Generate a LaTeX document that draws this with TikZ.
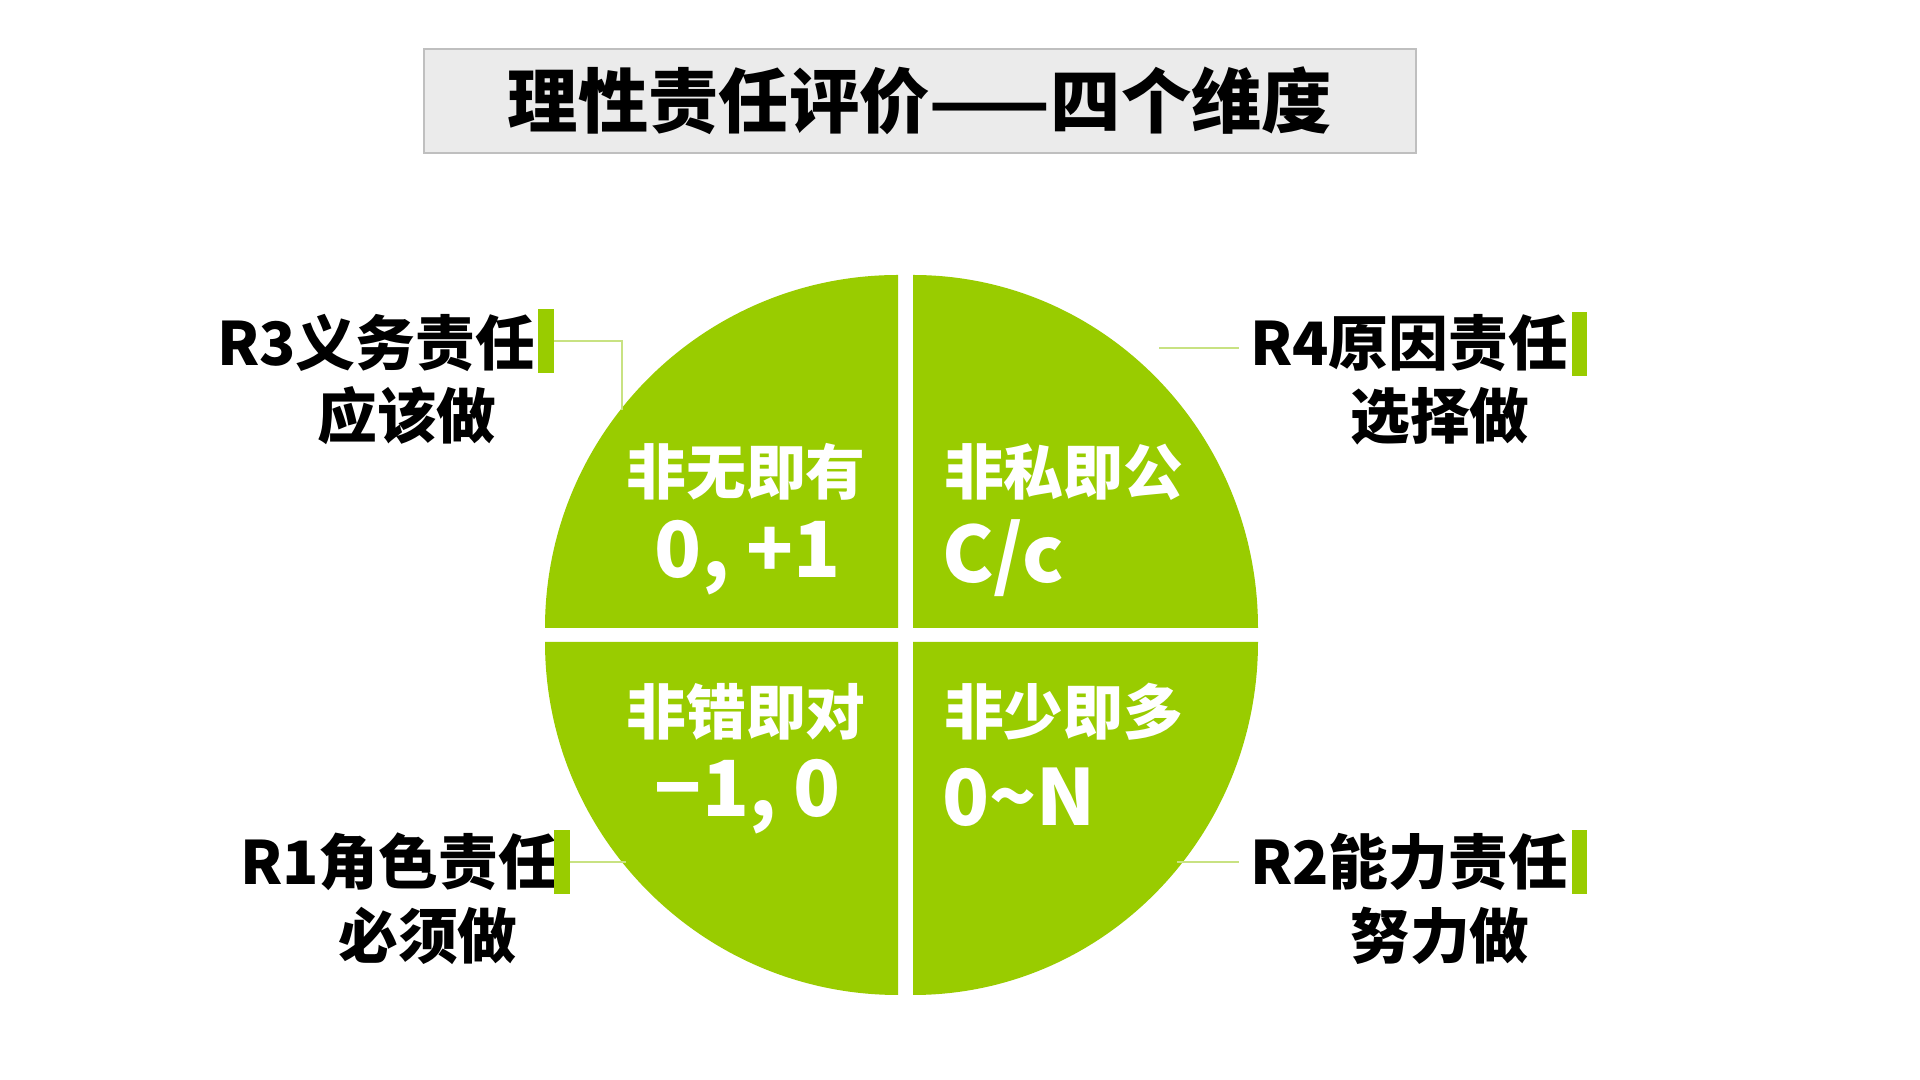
\documentclass[tikz,border=0pt]{standalone}
\usepackage{fontspec}
\setmainfont{Noto Sans CJK SC}
\usetikzlibrary{positioning}

\definecolor{rgreen}{RGB}{153,204,0}
\definecolor{rline}{RGB}{200,226,130}
\definecolor{tgray}{RGB}{235,235,235}

\begin{document}
\begin{tikzpicture}[x=0.01cm,y=-0.01cm,semithick]
  \tikzstyle{every node}=[inner sep=0pt,outer sep=0pt]
  \tikzstyle{cn}=[font=\fontsize{17}{20}\selectfont\bfseries]
  \tikzstyle{quad}=[cn,text=white]
  \tikzstyle{num}=[font=\fontsize{22}{24}\selectfont\bfseries,text=white]
  \tikzstyle{lbl}=[cn,text=black]
  \tikzstyle{bar}=[fill=rgreen,minimum width=0.15cm,minimum height=0.64cm]
  \tikzstyle{conn}=[draw=rline,line width=0.6pt]
  \tikzstyle{titlebox}=[draw=black!25,fill=tgray,line width=0.6pt,
    minimum width=9.92cm,minimum height=1.04cm,
    font=\fontsize{20}{22}\selectfont\bfseries]

  \useasboundingbox (0,0) rectangle (1920,1080);
  \fill[white] (0,0) rectangle (1920,1080);

  % title
  \node[titlebox] (title) at (920,101) {理性责任评价——四个维度};

  % four quarters
  \foreach \qx/\qy/\sa/\ea/\rx in {898/628/180/270/353, 913/628/270/360/345,
                                   898/642/90/180/353, 913/642/0/90/345}
    \fill[rgreen] (\qx,\qy) -- ++(\sa:{\rx} and 353)
      arc[start angle=\sa,end angle=\ea,x radius=\rx,y radius=353]
      -- cycle;

  \node[quad] (q3) at (746,472) {非无即有};
  \node[num] (n3) at (748,558) {0, +1};
  \node[quad,anchor=west] (q4) at (944,472) {非私即公};
  \node[num,anchor=west] (n4) at (942,558) {C/c};
  \node[quad] (q1) at (746,712) {非错即对};
  \node[num] (n1) at (748,797) {−1, 0};
  \node[quad,anchor=west] (q2) at (944,712) {非少即多};
  \node[num,anchor=west] (n2) at (942,797) {0\char`~N};

  % labels
  \node[lbl] (r3) at (376,343) {R3义务责任};
  \node[lbl] (r3b) at (407,416) {应该做};
  \node[bar] (b3) at (546,341) {};
  \node[lbl] (r1) at (399,862) {R1角色责任};
  \node[lbl] (r1b) at (428,936) {必须做};
  \node[bar] (b1) at (562,862) {};
  \node[lbl] (r4) at (1409,343) {R4原因责任};
  \node[lbl] (r4b) at (1440,416) {选择做};
  \node[bar] (b4) at (1579,344) {};
  \node[lbl] (r2) at (1409,862) {R2能力责任};
  \node[lbl] (r2b) at (1440,936) {努力做};
  \node[bar] (b2) at (1579,862) {};

  % connectors
  \coordinate (c3) at (622,410);
  \coordinate (c1) at (626,862);
  \coordinate (c4a) at (1159,348);
  \coordinate (c4b) at (1239,348);
  \coordinate (c2a) at (1177,862);
  \coordinate (c2b) at (1239,862);
  \path[conn] (b3.east) -| (c3);
  \path[conn] (b1.east) -- (c1);
  \path[conn] (c4a) -- (c4b);
  \path[conn] (c2a) -- (c2b);
\end{tikzpicture}
\end{document}
